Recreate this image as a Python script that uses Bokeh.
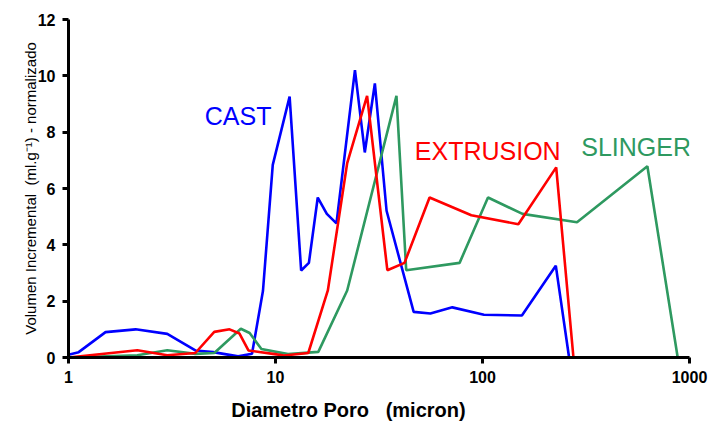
from bokeh.plotting import figure
from bokeh.models import Range1d, FixedTicker, Label
from bokeh.embed import file_html
from bokeh.resources import INLINE

cast_x = [1.0, 1.12, 1.51, 2.11, 3.0, 4.1, 5.0, 6.6, 7.7, 8.7, 9.7, 11.7, 13.3, 14.5, 16.0, 17.7, 19.7,
          24.2, 27.0, 30.2, 34.4, 46.5, 56.0, 71.5, 101.6, 155.0, 226.0, 262.0]
cast_y = [0.1, 0.19, 0.9, 1.0, 0.84, 0.25, 0.19, 0.04, 0.13, 2.37, 6.84, 9.26, 3.09, 3.36, 5.68, 5.1, 4.76,
          10.2, 7.28, 9.73, 5.21, 1.62, 1.56, 1.78, 1.52, 1.49, 3.26, 0.0]

extr_x = [1.0, 2.15, 3.0, 4.1, 5.06, 6.0, 6.7, 7.4, 9.9, 11.0, 14.4, 17.9, 22.2, 27.7, 34.7, 42.0,
          55.5, 88.3, 149.0, 227.0, 275.0]
extr_y = [0.0, 0.26, 0.08, 0.16, 0.91, 1.0, 0.85, 0.25, 0.12, 0.07, 0.16, 2.38, 6.9, 9.29, 3.1, 3.36,
          5.68, 5.05, 4.73, 6.75, 0.0]

sling_x = [1.0, 2.15, 3.0, 4.1, 5.06, 6.8, 7.5, 8.55, 11.5, 16.1, 22.2, 38.4, 42.8, 77.5, 106.3, 156.0,
           286.0, 626.0, 877.0]
sling_y = [0.0, 0.08, 0.26, 0.13, 0.16, 1.02, 0.87, 0.3, 0.12, 0.2, 2.38, 9.29, 3.1, 3.36, 5.68, 5.1,
           4.8, 6.79, 0.0]

x_ticks = [1, 10, 100, 1000]
y_ticks = [0, 2, 4, 6, 8, 10, 12]

BLUE = "#0000FF"
RED = "#FF0000"
GREEN = "#2E9960"
NB = "\u00a0"

p = figure(width=708, height=425, x_axis_type="log", output_backend="svg", toolbar_location=None,
           x_range=Range1d(1, 1000), y_range=Range1d(0, 12),
           min_border_left=68, min_border_right=19, min_border_top=19, min_border_bottom=68)
p.outline_line_color = None
p.xgrid.visible = False
p.ygrid.visible = False

p.line(cast_x, cast_y, line_color=BLUE, line_width=2.6)
p.line(sling_x, sling_y, line_color=GREEN, line_width=2.6)
p.line(extr_x, extr_y, line_color=RED, line_width=2.6)

p.xaxis.ticker = FixedTicker(ticks=x_ticks, minor_ticks=[])
p.yaxis.ticker = FixedTicker(ticks=y_ticks, minor_ticks=[])
p.xaxis.major_label_overrides = {1: "1", 10: "10", 100: "100", 1000: "1000"}

for ax in (p.xaxis[0], p.yaxis[0]):
    ax.axis_line_width = 3
    ax.axis_line_color = "black"
    ax.major_tick_line_width = 3
    ax.major_tick_out = 6
    ax.major_tick_in = 0
    ax.minor_tick_line_color = None
    ax.major_label_text_font = "Liberation Sans"
    ax.major_label_text_font_style = "bold"
    ax.major_label_text_font_size = "16px"
    ax.major_label_text_color = "black"
    ax.axis_label_text_font = "Liberation Sans"
    ax.axis_label_text_color = "black"

p.xaxis.major_label_standoff = 7
p.yaxis.major_label_standoff = 7
p.xaxis.axis_label = "Diametro Poro" + NB * 3 + "(micron)" + NB * 11
p.xaxis.axis_label_text_font_style = "bold"
p.xaxis.axis_label_text_font_size = "20px"
p.xaxis.axis_label_standoff = 13
p.yaxis.axis_label = "Volumen Incremental" + NB * 2 + "(ml.g\u207b\u00b9) - normalizado"
p.yaxis.axis_label_text_font_style = "normal"
p.yaxis.axis_label_text_font_size = "15px"
p.yaxis.axis_label_standoff = -4

for txt, x, y, c in [("CAST", 6.6, 8.58, BLUE), ("EXTRUSION", 106.0, 7.32, RED), ("SLINGER", 552.0, 7.48, GREEN)]:
    p.add_layout(Label(x=x, y=y, text=txt, text_color=c, text_font="Liberation Sans",
                       text_font_size="25px", text_align="center", text_baseline="middle"))

open("out.html", "w").write(file_html(p, INLINE))
